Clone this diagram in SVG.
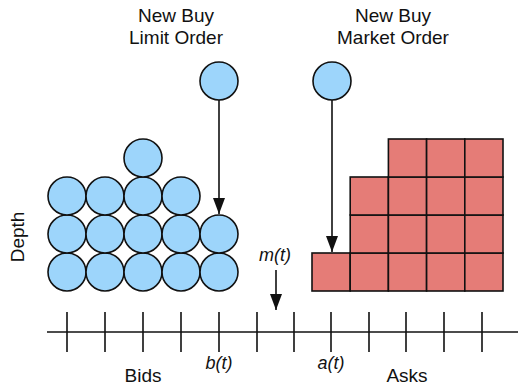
<svg xmlns="http://www.w3.org/2000/svg" width="518" height="386" viewBox="0 0 518 386">
<defs>
<style>
.b{fill:#9dd5fb;stroke:#111;stroke-width:1.6}
.s{fill:#e57c77;stroke:#111;stroke-width:1.6}
.l{stroke:#111;stroke-width:1.6;fill:none}
.t{font-family:"Liberation Sans",Arial,sans-serif;font-size:19px;fill:#111;text-anchor:middle}
.i{font-style:italic;font-size:18px}
</style>
<marker id="ah" markerWidth="16" markerHeight="12" refX="16" refY="6" orient="auto" markerUnits="userSpaceOnUse" viewBox="0 0 16 12">
<path d="M0,0 L16,6 L0,12 Z" fill="#111"/>
</marker>
</defs>
<rect width="518" height="386" fill="#fff"/>
<g id="labels">
<text class="t" x="176" y="22">New Buy</text>
<text class="t" x="176" y="44">Limit Order</text>
<text class="t" x="393" y="22">New Buy</text>
<text class="t" x="393" y="44">Market Order</text>
<text class="t" transform="translate(24,237) rotate(-90)">Depth</text>
<text class="t i" x="275" y="261">m(t)</text>
<text class="t i" x="219" y="369">b(t)</text>
<text class="t i" x="331" y="369">a(t)</text>
<text class="t" x="143" y="382">Bids</text>
<text class="t" x="407" y="382">Asks</text>
</g>
<g id="bids">
<circle class="b" cx="67" cy="272" r="19"/><circle class="b" cx="105" cy="272" r="19"/><circle class="b" cx="143" cy="272" r="19"/><circle class="b" cx="181" cy="272" r="19"/><circle class="b" cx="219" cy="272" r="19"/>
<circle class="b" cx="67" cy="234" r="19"/><circle class="b" cx="105" cy="234" r="19"/><circle class="b" cx="143" cy="234" r="19"/><circle class="b" cx="181" cy="234" r="19"/><circle class="b" cx="219" cy="234" r="19"/>
<circle class="b" cx="67" cy="196" r="19"/><circle class="b" cx="105" cy="196" r="19"/><circle class="b" cx="143" cy="196" r="19"/><circle class="b" cx="181" cy="196" r="19"/>
<circle class="b" cx="143" cy="158" r="19"/>
</g>
<g id="asks">
<rect class="s" x="312" y="253" width="38.2" height="38"/><rect class="s" x="350.2" y="253" width="38.2" height="38"/><rect class="s" x="388.4" y="253" width="38.2" height="38"/><rect class="s" x="426.6" y="253" width="38.2" height="38"/><rect class="s" x="464.8" y="253" width="38.2" height="38"/>
<rect class="s" x="350.2" y="215" width="38.2" height="38"/><rect class="s" x="388.4" y="215" width="38.2" height="38"/><rect class="s" x="426.6" y="215" width="38.2" height="38"/><rect class="s" x="464.8" y="215" width="38.2" height="38"/>
<rect class="s" x="350.2" y="177" width="38.2" height="38"/><rect class="s" x="388.4" y="177" width="38.2" height="38"/><rect class="s" x="426.6" y="177" width="38.2" height="38"/><rect class="s" x="464.8" y="177" width="38.2" height="38"/>
<rect class="s" x="388.4" y="139" width="38.2" height="38"/><rect class="s" x="426.6" y="139" width="38.2" height="38"/><rect class="s" x="464.8" y="139" width="38.2" height="38"/>
</g>
<g id="connectors">
<line class="l" x1="219" y1="100" x2="219" y2="214" marker-end="url(#ah)"/>
<line class="l" x1="332" y1="100" x2="332" y2="252" marker-end="url(#ah)"/>
<line class="l" x1="276" y1="270" x2="276" y2="310" marker-end="url(#ah)"/>
</g>
<g id="new-limit"><circle class="b" cx="219" cy="81" r="19"/></g>
<g id="new-market"><circle class="b" cx="332" cy="81" r="19"/></g>
<g id="axis" class="l">
<line x1="47" y1="332" x2="518" y2="332"/>
<path d="M67,312V352M105,312V352M143,312V352M181,312V352M219,312V352M257,312V352M294,312V352M331,312V352M369,312V352M406,312V352M444,312V352M482,312V352"/>
</g>
</svg>
